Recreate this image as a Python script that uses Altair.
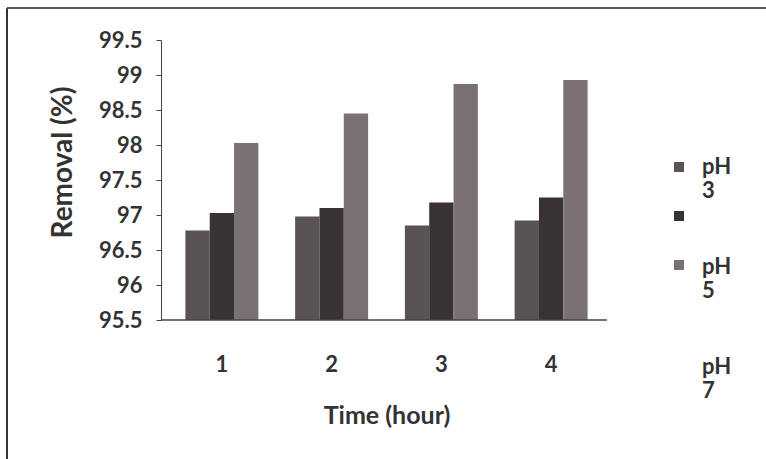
import altair as alt
import pandas as pd

times = ["1", "2", "3", "4"]
series = ["pH 3", "pH 5", "pH 7"]
ph3 = [96.78, 96.98, 96.85, 96.92]
ph5 = [97.03, 97.1, 97.18, 97.25]
ph7 = [98.03, 98.45, 98.87, 98.93]
y_ticks = [95.5, 96, 96.5, 97, 97.5, 98, 98.5, 99, 99.5]
colors = ["#5a5354", "#383234", "#7a7173"]

rows = []
for s, vals in zip(series, [ph3, ph5, ph7]):
    for t, v in zip(times, vals):
        rows.append({"Time": t, "pH": s, "label": s, "Removal": v})
df = pd.DataFrame(rows)

FONT = "Lato"
W, H = 446, 280

bars = alt.Chart(df).mark_bar().encode(
    x=alt.X("Time:N", sort=times,
            scale=alt.Scale(range=[6, 445], paddingInner=0.335, paddingOuter=0.1675),
            axis=alt.Axis(title="Time (hour)", labelAngle=0, domain=False, ticks=False,
                          tickSize=0, labelPadding=34, labelFontSize=22,
                          labelFont=FONT, labelFontWeight="bold", labelColor="#333",
                          titleFont=FONT, titleFontSize=25, titleFontWeight="bold",
                          titleColor="#333", titleY=95, titleBaseline="middle")),
    xOffset=alt.XOffset("pH:N", sort=series, scale=alt.Scale(paddingInner=0, paddingOuter=0)),
    y=alt.Y("Removal:Q",
            scale=alt.Scale(domain=[95.5, 99.5], zero=False, nice=False),
            axis=alt.Axis(title="Removal (%)", values=y_ticks, format=".1~f", grid=False,
                          tickSize=5, tickColor="#444", domainColor="#444",
                          labelOverlap=False,
                          labelPadding=14, labelFontSize=22, labelFont=FONT,
                          labelFontWeight="bold", labelColor="#333",
                          titleFont=FONT, titleFontSize=28, titleFontWeight="bold",
                          titleColor="#333", titleX=-84, titleY=122,
                          titleBaseline="bottom", titleAngle=270)),
    y2=alt.datum(95.5),
    color=alt.Color("pH:N", sort=series,
                    scale=alt.Scale(domain=series, range=colors),
                    legend=alt.Legend(title=None, orient="none", legendX=513, legendY=122,
                                      symbolType="square", symbolSize=100,
                                      symbolStrokeWidth=0, labelExpr="''",
                                      labelFontSize=1, rowPadding=39, padding=0,
                                      labelOffset=0)),
)

labels_layer = alt.Chart(df).mark_point(opacity=0).encode(
    x=alt.value(0),
    y=alt.value(0),
    shape=alt.Shape("label:N", sort=series,
                    legend=alt.Legend(title=None, orient="none", legendX=519, legendY=116,
                                      symbolSize=1, symbolOpacity=0, symbolStrokeWidth=0,
                                      labelExpr="split(datum.label, ' ')",
                                      labelFont=FONT, labelFontSize=22,
                                      labelFontWeight="bold", labelColor="#333",
                                      rowPadding=54, padding=0, labelOffset=0)),
)

frame = pd.DataFrame([{"k": 0}])
baseline = alt.Chart(frame).mark_rule(color="#444", strokeWidth=1.5).encode(
    x=alt.value(0), x2=alt.value(W), y=alt.value(H))
left_border = alt.Chart(frame).mark_rule(color="#333", strokeWidth=2).encode(
    x=alt.value(-154), y=alt.value(-32), y2=alt.value(419))
top_border = alt.Chart(frame).mark_rule(color="#555", strokeWidth=2).encode(
    x=alt.value(-154), x2=alt.value(605), y=alt.value(-32))

chart = alt.layer(bars, labels_layer, baseline, left_border, top_border).properties(
    width=W, height=H,
    autosize=alt.AutoSizeParams(type="none"),
    padding={"left": 161, "top": 40, "right": 159, "bottom": 139},
    background="white",
).configure_view(stroke=None)

chart.save("out.html", embed_options={"renderer": "svg", "actions": False})
